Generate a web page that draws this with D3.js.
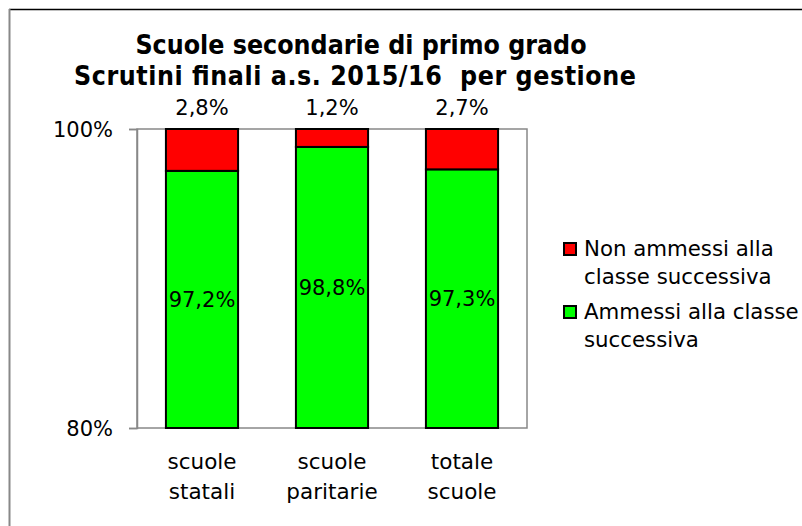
<!DOCTYPE html>
<html>
<head>
<meta charset="utf-8">
<script src="https://cdn.jsdelivr.net/npm/d3@7"></script>
<style>
  body { margin: 0; background: #fff; }
  text { font-family: Tahoma, "DejaVu Sans", sans-serif; fill: #000; }
</style>
</head>
<body>
<div id="chart"></div>
<script>
// data
var categories = ["scuole\nstatali", "scuole\nparitarie", "totale\nscuole"];
var ammessi = [97.2, 98.8, 97.3];
var nonAmmessi = [2.8, 1.2, 2.7];
var yTicks = [80, 100];
var legendLabels = ["Non ammessi alla\nclasse successiva", "Ammessi alla classe\nsuccessiva"];
var colors = ["#ff0000", "#00ff00"];

var width = 802, height = 526;
var svg = d3.select("#chart").append("svg")
    .attr("width", width)
    .attr("height", height);

// outer frame (only top and left are visible)
svg.append("line").attr("x1", 9).attr("x2", width).attr("y1", 9.5).attr("y2", 9.5)
    .attr("stroke", "#000").attr("stroke-width", 1.5);
svg.append("line").attr("x1", 9.5).attr("x2", 9.5).attr("y1", 9).attr("y2", height)
    .attr("stroke", "#888").attr("stroke-width", 2);

// title
var title = svg.append("text")
    .attr("text-anchor", "middle")
    .style("white-space", "pre")
    .style("font-family", "'Liberation Sans Narrow', 'Arial Narrow', 'DejaVu Sans Condensed', sans-serif")
    .style("font-weight", "bold")
    .style("font-size", "26.5px");
title.append("tspan").attr("x", 361).attr("y", 54).text("Scuole secondarie di primo grado");
title.append("tspan").attr("x", 355).attr("y", 85)
    .attr("textLength", 562).attr("lengthAdjust", "spacing")
    .text("Scrutini finali a.s. 2015/16  per gestione");

// scales
var x = d3.scaleBand().domain(categories).range([137, 527]).paddingInner(0.445).paddingOuter(0.2225);
var y = d3.scaleLinear().domain([80, 100]).range([428, 129]);

// plot frame
svg.append("rect")
    .attr("x", 137).attr("y", 129).attr("width", 390).attr("height", 299)
    .attr("fill", "none").attr("stroke", "#888").attr("stroke-width", 1.5);

// y axis
var yAxis = svg.append("g").attr("transform", "translate(137,0)")
    .call(d3.axisLeft(y).tickValues(yTicks).tickSize(8).tickFormat(function(d) { return d + "%"; }));
yAxis.select(".domain").attr("stroke", "#888").attr("stroke-width", 1.5);
yAxis.selectAll(".tick line").attr("stroke", "#888").attr("stroke-width", 1.5);
yAxis.selectAll(".tick text").attr("x", -24).attr("dy", "0.35em")
    .style("font-size", "21px").style("font-family", "Tahoma, 'DejaVu Sans', sans-serif");

// green bars (ammessi)
svg.selectAll(".bar-green").data(ammessi).enter().append("rect")
    .attr("class", "bar-green")
    .attr("x", function(d, i) { return x(categories[i]); })
    .attr("width", x.bandwidth())
    .attr("y", function(d) { return y(d); })
    .attr("height", function(d) { return y(80) - y(d); })
    .attr("fill", colors[1]).attr("stroke", "#000").attr("stroke-width", 2);

// red bars (non ammessi) stacked on top
svg.selectAll(".bar-red").data(nonAmmessi).enter().append("rect")
    .attr("class", "bar-red")
    .attr("x", function(d, i) { return x(categories[i]); })
    .attr("width", x.bandwidth())
    .attr("y", function(d, i) { return y(ammessi[i] + d); })
    .attr("height", function(d, i) { return y(ammessi[i]) - y(ammessi[i] + d); })
    .attr("fill", colors[0]).attr("stroke", "#000").attr("stroke-width", 2);

// labels inside green
svg.selectAll(".lab-green").data(ammessi).enter().append("text")
    .attr("x", function(d, i) { return x(categories[i]) + x.bandwidth() / 2; })
    .attr("y", function(d) { return (y(d) + y(80)) / 2; })
    .attr("dy", "0.35em")
    .attr("text-anchor", "middle")
    .style("font-size", "21px")
    .text(function(d) { return d.toFixed(1).replace(".", ",") + "%"; });

// labels above bars
svg.selectAll(".lab-red").data(nonAmmessi).enter().append("text")
    .attr("x", function(d, i) { return x(categories[i]) + x.bandwidth() / 2; })
    .attr("y", 108)
    .attr("dy", "0.35em")
    .attr("text-anchor", "middle")
    .style("font-size", "21px")
    .text(function(d) { return d.toFixed(1).replace(".", ",") + "%"; });

// category labels
categories.forEach(function(c) {
    var t = svg.append("text")
        .attr("text-anchor", "middle")
        .style("font-size", "21.5px");
    c.split("\n").forEach(function(line, k) {
        t.append("tspan")
            .attr("x", x(c) + x.bandwidth() / 2)
            .attr("y", 469 + k * 30)
            .text(line);
    });
});

// legend
var legendY = [249, 312];
legendLabels.forEach(function(lab, i) {
    svg.append("rect")
        .attr("x", 564).attr("y", legendY[i] - 6)
        .attr("width", 12).attr("height", 12)
        .attr("fill", colors[i]).attr("stroke", "#000").attr("stroke-width", 2);
    var t = svg.append("text").style("font-size", "21.3px");
    lab.split("\n").forEach(function(line, k) {
        t.append("tspan")
            .attr("x", 584)
            .attr("y", legendY[i] + 7 + k * 28)
            .text(line);
    });
});
</script>
</body>
</html>
